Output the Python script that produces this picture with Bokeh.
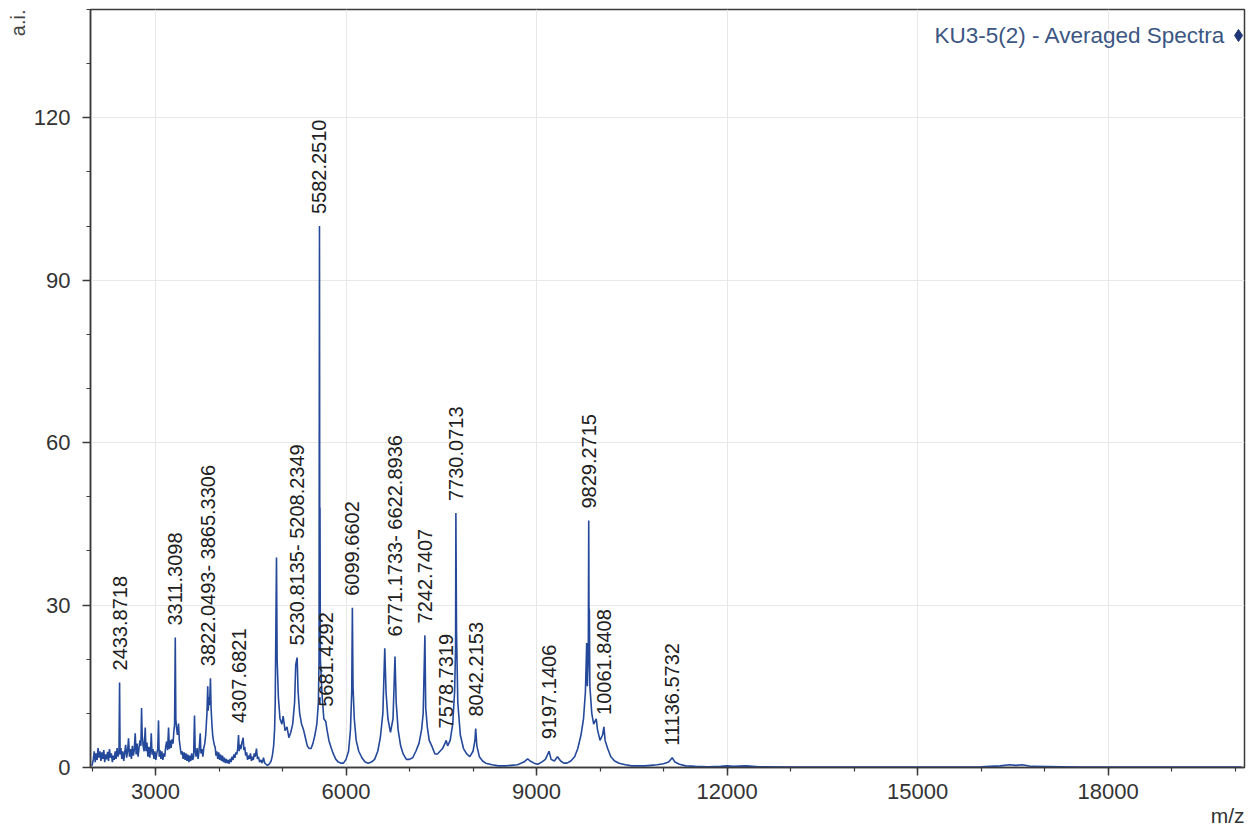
import math
from bokeh.plotting import figure
from bokeh.models import ColumnDataSource, Label, SingleIntervalTicker, Range1d, Title
from bokeh.core.properties import value
from bokeh.embed import file_html
from bokeh.resources import INLINE

# ---------------- data ----------------
# low-mass region (dense noise with small peaks)
low_mz = [
    2000, 2020, 2035, 2050, 2065, 2080, 2095, 2110, 2125, 2140,
    2155, 2170, 2185, 2200, 2215, 2230, 2245, 2260, 2275, 2290,
    2305, 2320, 2335, 2350, 2365, 2380, 2395, 2410, 2425, 2434,
    2442, 2455, 2470, 2485, 2500, 2515, 2530, 2545, 2560, 2575,
    2590, 2605, 2620, 2635, 2650, 2665, 2680, 2695, 2710, 2725,
    2740, 2755, 2770, 2780, 2790, 2805, 2820, 2838, 2850, 2865,
    2880, 2895, 2910, 2925, 2933, 2945, 2960, 2975, 2990, 3005,
    3020, 3035, 3047, 3058, 3070, 3085, 3100, 3115, 3130, 3145,
    3160, 3175, 3190, 3205, 3218, 3232, 3245, 3260, 3275, 3290,
    3300, 3311, 3320, 3330, 3345, 3362, 3375, 3390, 3405, 3420,
    3435, 3450, 3465, 3480, 3495, 3510, 3525, 3540, 3555, 3570,
    3585, 3600, 3614, 3625, 3640, 3655, 3670, 3685, 3704, 3715,
    3730, 3745, 3760, 3775, 3790, 3800, 3810, 3822, 3830, 3840,
    3850, 3858, 3865, 3875, 3888, 3900, 3912, 3925, 3940, 3952,
    3965, 3980, 3995, 4010, 4025, 4040, 4055, 4070, 4085, 4100,
    4115, 4130, 4145, 4160, 4175, 4190, 4205, 4220, 4235, 4250,
    4265, 4280, 4295, 4307, 4318, 4330, 4345, 4360, 4380, 4392,
    4405, 4420, 4435, 4450, 4465, 4480, 4495, 4510, 4525, 4540,
    4555, 4570, 4590, 4605, 4620, 4640, 4660, 4680, 4700, 4720,
    4740, 4760, 4780, 4800, 4820, 4840, 4860, 4875, 4885,
]
low_int = [
    0.3, 1.5, 3.0, 1.0, 2.6, 1.4, 3.6, 1.8, 3.0, 1.2,
    2.8, 1.6, 3.2, 1.0, 2.4, 1.5, 2.9, 1.2, 3.4, 1.8,
    2.6, 1.0, 2.2, 1.4, 3.0, 1.6, 3.6, 2.0, 3.2, 15.7,
    2.4, 3.6, 1.6, 3.0, 1.2, 2.8, 4.2, 1.8, 3.0, 5.4,
    2.0, 3.4, 1.6, 4.0, 2.2, 3.2, 6.3, 2.4, 4.4, 2.0,
    3.6, 5.0, 4.0, 11.0, 6.0, 4.0, 3.0, 7.4, 3.0, 4.6,
    2.0, 3.8, 1.8, 4.0, 6.3, 2.4, 3.4, 1.6, 3.0, 1.4,
    2.6, 3.4, 8.7, 2.0, 3.2, 1.6, 3.0, 1.4, 2.6, 2.0,
    3.8, 4.8, 3.2, 7.4, 3.4, 5.0, 3.6, 5.2, 4.4, 6.8,
    8.0, 24.0, 9.0, 7.4, 6.0, 8.1, 5.0, 3.6, 2.4, 3.0,
    1.6, 2.8, 1.4, 2.6, 1.2, 2.4, 1.0, 2.2, 1.2, 2.6,
    1.4, 2.0, 9.6, 3.0, 2.0, 3.6, 1.6, 3.0, 6.3, 2.6,
    3.4, 2.0, 3.6, 4.4, 6.0, 8.0, 10.0, 15.0, 10.5, 13.0,
    11.5, 14.0, 16.5, 11.0, 8.0, 6.0, 5.0, 4.2, 3.7, 2.2,
    3.0, 1.6, 2.8, 1.4, 2.4, 1.2, 2.2, 1.0, 1.8, 0.8,
    1.6, 0.8, 1.4, 0.7, 1.6, 1.0, 2.0, 1.4, 2.4, 1.8,
    2.8, 2.4, 3.6, 6.0, 3.0, 4.2, 3.4, 4.6, 5.5, 3.2,
    3.8, 2.2, 2.8, 1.4, 2.2, 1.6, 2.6, 1.2, 2.0, 1.4,
    2.6, 2.0, 3.5, 1.6, 2.0, 1.0, 1.4, 0.8, 1.8, 0.8,
    0.6, 0.4, 0.5, 0.8, 1.2, 2.2, 4.0, 7.0, 12.0,
]
# higher-mass region
high_mz = [
    4905, 4915, 4935, 4960, 4990, 5010, 5040, 5070, 5100, 5130,
    5160, 5190, 5208, 5230, 5245, 5270, 5300, 5330, 5360, 5390,
    5420, 5450, 5480, 5510, 5540, 5565, 5575, 5582, 5587, 5590,
    5596, 5620, 5650, 5681, 5700, 5730, 5770, 5800, 5840, 5880,
    5920, 5960, 6000, 6040, 6070, 6090, 6100, 6110, 6130, 6160,
    6200, 6250, 6300, 6350, 6400, 6450, 6500, 6540, 6580, 6610,
    6630, 6660, 6700, 6740, 6771, 6790, 6820, 6860, 6900, 6950,
    7000, 7050, 7100, 7150, 7190, 7215, 7242, 7255, 7280, 7310,
    7350, 7400, 7440, 7480, 7520, 7560, 7578, 7600, 7640, 7680,
    7710, 7725, 7730, 7740, 7760, 7800, 7850, 7900, 7950, 8000,
    8030, 8042, 8060, 8100, 8150, 8200, 8300, 8400, 8500, 8600,
    8700, 8800, 8860, 8900, 8960, 9020, 9080, 9140, 9197, 9230,
    9280, 9330, 9380, 9430, 9480, 9540, 9600, 9650, 9700, 9740,
    9770, 9790, 9800, 9815, 9822, 9826, 9832, 9840, 9870, 9900,
    9940, 9960, 10000, 10040, 10061, 10080, 10120, 10170, 10230, 10300,
    10400, 10500, 10600, 10700, 10800, 10900, 11000, 11080, 11137, 11180,
    11250, 11350, 11500, 11700, 11900, 12000, 12100, 12300, 12500, 13000,
    14000, 15000, 16000, 16300, 16450, 16550, 16650, 16800, 17500, 18500,
    19500, 20100,
]
high_int = [
    38.8, 20.0, 12.9, 9.0, 8.0, 9.5, 6.8, 7.5, 5.5, 6.5,
    8.0, 12.0, 19.0, 20.3, 14.0, 10.0, 8.0, 7.0, 5.5, 4.0,
    3.5, 3.5, 4.5, 6.0, 8.0, 12.0, 20.0, 100.0, 30.0, 48.0,
    20.0, 14.0, 9.0, 8.5, 7.0, 5.0, 3.5, 2.5, 1.5, 1.0,
    0.8, 0.8, 1.5, 3.0, 7.0, 14.0, 29.5, 15.0, 9.0, 5.0,
    3.0, 1.8, 1.0, 0.8, 1.0, 1.5, 3.0, 5.5, 10.0, 22.0,
    14.0, 9.0, 6.5, 9.0, 20.5, 12.0, 7.0, 4.0, 2.5, 1.5,
    1.5, 1.8, 3.0, 4.5, 7.0, 10.0, 24.4, 11.0, 7.5, 5.0,
    4.0, 2.5, 2.5, 3.0, 3.5, 4.5, 5.0, 4.0, 5.0, 8.0,
    14.0, 22.0, 47.0, 25.0, 12.0, 6.0, 3.5, 2.5, 2.0, 3.0,
    5.0, 7.2, 4.0, 2.0, 1.2, 0.8, 0.5, 0.3, 0.3, 0.4,
    0.5, 1.0, 1.6, 1.2, 0.8, 0.6, 1.0, 1.5, 3.0, 1.5,
    1.2, 2.0, 1.2, 0.8, 0.8, 1.2, 2.0, 3.5, 6.0, 9.0,
    14.0, 23.0, 15.0, 20.0, 45.6, 29.5, 29.0, 15.0, 10.0, 8.0,
    9.0, 7.0, 5.0, 6.0, 7.5, 5.0, 3.5, 2.0, 1.2, 0.8,
    0.5, 0.3, 0.3, 0.3, 0.4, 0.5, 0.7, 1.0, 1.8, 1.0,
    0.6, 0.3, 0.2, 0.15, 0.2, 0.3, 0.2, 0.3, 0.15, 0.1,
    0.1, 0.1, 0.15, 0.3, 0.5, 0.4, 0.5, 0.2, 0.1, 0.1,
    0.1, 0.1,
]

# peak annotation groups (stacked labels share one column)
peak_groups = [
    ["2433.8718"],
    ["3311.3098"],
    ["3822.0493", "3865.3306"],
    ["4307.6821"],
    ["5230.8135", "5208.2349"],
    ["5582.2510"],
    ["5681.4292"],
    ["6099.6602"],
    ["6771.1733", "6622.8936"],
    ["7242.7407"],
    ["7578.7319"],
    ["7730.0713"],
    ["8042.2153"],
    ["9197.1406"],
    ["9829.2715"],
    ["10061.8408"],
    ["11136.5732"],
]

series_name = "KU3-5(2) - Averaged Spectra"
x_title = "m/z"
y_title = "a.i."
x_tick_interval = 3000
y_tick_interval = 30

spec_mz = low_mz + high_mz
spec_int = low_int + high_int

# ---------------- styling ----------------
FONT = "Liberation Sans"
LINE_COLOR = "#24489a"
LABEL_SIZE = 20
GAP = 12

def text_px(s, size):
    w = {".": 0.278, "-": 0.333, " ": 0.278}
    return sum(w.get(c, 0.556) for c in s) * size

def local_max(m):
    vals = [i for x, i in zip(spec_mz, spec_int) if abs(x - m) <= 40]
    return max(vals) if vals else 0.0

lx, ly, lt, loff = [], [], [], []
for grp in peak_groups:
    anchor = float(grp[0])
    top = max(local_max(float(t)) for t in grp)
    cum = GAP
    for k, t in enumerate(grp):
        shown = t + "-" if (len(grp) > 1 and k < len(grp) - 1) else t
        lx.append(anchor)
        ly.append(top)
        lt.append(shown)
        loff.append(-cum)
        cum += text_px(shown + " ", LABEL_SIZE)

p = figure(
    width=1248, height=831,
    x_range=Range1d(1976, 20149), y_range=Range1d(0, 140),
    output_backend="svg", toolbar_location=None,
    min_border_left=90, min_border_right=4, min_border_top=9, min_border_bottom=64,
)
p.background_fill_color = "white"
p.border_fill_color = "white"
p.outline_line_color = "#3a3a3a"
p.outline_line_width = 1.5

p.line(spec_mz, spec_int, line_color=LINE_COLOR, line_width=1.6)

src = ColumnDataSource(dict(x=lx, y=ly, text=lt, off=loff))
p.text(x="x", y="y", text="text", source=src, angle=math.pi / 2,
       y_offset="off", text_align="left", text_baseline="middle",
       text_font=value(FONT), text_font_size=f"{LABEL_SIZE}px", text_color="#202020")

# axes
p.xaxis.ticker = SingleIntervalTicker(interval=x_tick_interval, num_minor_ticks=3)
p.yaxis.ticker = SingleIntervalTicker(interval=y_tick_interval, num_minor_ticks=3)
for ax in (p.xaxis, p.yaxis):
    ax.axis_line_color = "#3a3a3a"
    ax.axis_line_width = 1.5
    ax.major_tick_line_color = "#3a3a3a"
    ax.minor_tick_line_color = "#3a3a3a"
    ax.major_tick_line_width = 1.5
    ax.minor_tick_line_width = 1.2
    ax.major_tick_in = 0
    ax.minor_tick_in = 0
    ax.major_tick_out = 8
    ax.minor_tick_out = 4
    ax.major_label_text_font = FONT
    ax.major_label_text_font_size = "22px"
    ax.major_label_text_color = "#333333"
p.xaxis.major_label_standoff = 8
p.yaxis.major_label_standoff = 12

p.xgrid.grid_line_color = "#e8e8e8"
p.ygrid.grid_line_color = "#e8e8e8"

# axis titles at the frame corners
p.add_layout(Title(text=y_title, align="right", text_font=FONT, text_font_size="20px",
                   text_font_style="normal", text_color="#444444", standoff=3), "left")
p.add_layout(Title(text=x_title, align="right", text_font=FONT, text_font_size="21px",
                   text_font_style="normal", text_color="#333333", standoff=0), "below")

# series header at top right
p.add_layout(Label(x=19850, y=135.2, text=series_name, text_align="right",
                   text_baseline="middle", text_font=FONT, text_font_size="22.5px",
                   text_color="#3b5683"))
p.scatter([20055], [135.2], marker="diamond", size=12, color="#1f3575")

open("out.html", "w").write(file_html(p, INLINE))
